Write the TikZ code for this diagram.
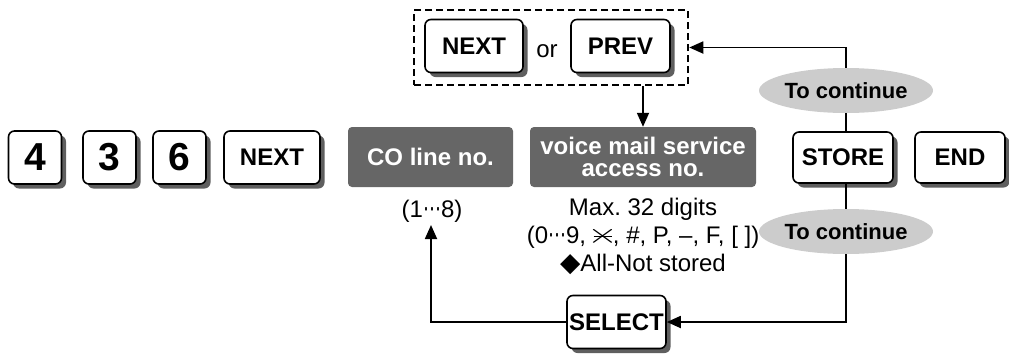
\documentclass[tikz,border=0pt]{standalone}
\usepackage{fontspec}
\usepackage{graphicx}
\setmainfont{Liberation Sans}
\newfontfamily\symfont{DejaVu Sans}
\usepackage{tikz}
\usetikzlibrary{arrows.meta, shapes.geometric, shadows}
\definecolor{shadowgray}{HTML}{5F5F5F}
\definecolor{fieldgray}{HTML}{666666}
\definecolor{ovalgray}{HTML}{CCCCCC}
\frenchspacing
\newcommand{\keyfont}{\bfseries\fontsize{24}{22}\selectfont}
\newcommand{\digitfont}{\bfseries\fontsize{39}{39}\selectfont}
\newcommand{\notefont}{\fontsize{24}{28}\selectfont}
\newcommand{\middots}{{\symfont\scalebox{0.75}[1.1]{⋯}}}
\newcommand{\starsym}{\makebox[0.84em]{\makebox[0pt]{\scalebox{1.6}[1.15]{$\times$}}\makebox[0pt]{\rule[0.235em]{0.78em}{0.04em}}}}
\tikzset{
  key/.style={draw, line width=1.6pt, rounded corners=6pt, fill=white, inner sep=0pt, minimum height=53pt, font=\keyfont,
    drop shadow={shadow xshift=4.5pt, shadow yshift=-4.5pt, opacity=1, fill=shadowgray}},
  digit/.style={key, font=\digitfont, minimum width=53pt},
  field/.style={fill=fieldgray, rounded corners=4pt, text=white, font=\keyfont, align=center, inner sep=0pt, minimum height=60pt},
  cont/.style={ellipse, fill=ovalgray, inner sep=0pt, minimum width=144pt, minimum height=45pt, font=\bfseries\fontsize{22}{22}\selectfont},
  flow/.style={line width=1.8pt, -{Triangle[length=14pt, width=12pt]}},
  link/.style={line width=1.8pt},
  note/.style={align=center, font=\notefont}
}
\begin{document}
\begin{tikzpicture}[x=1pt, y=-1pt]
    \useasboundingbox (0,0) rectangle (1009,354);
    % fixed entry
    \node[digit] (k4) at (35,157.5) {4};
    \node[digit] (k3) at (109.5,157.5) {3};
    \node[digit] (k6) at (179.5,157.5) {6};
    \node[key, minimum width=96pt] (next) at (272,157.5) {NEXT};
    % fields
    \node[field, minimum width=165pt] (co) at (430.5,157) {CO line no.};
    \node[field, minimum width=226pt] (vm) at (643,157) {voice mail service\\access no.};
    \node[note, anchor=base] (corange) at (432,217) {(1\middots8)};
    \node[note] (vmrange) at (643,236) {Max. 32 digits\\(0\middots9, \starsym, \#, P, –, F, [ ])\\{\symfont\scalebox{1.1}{◆}}All-Not stored};
    % next / prev
    \node[draw, line width=2.5pt, dash pattern=on 7pt off 4pt, minimum width=274pt, minimum height=75pt, inner sep=0pt] (pick) at (551,47.5) {};
    \node[key, minimum width=98pt] (next2) at (474,46) {NEXT};
    \node[note, anchor=base] (or) at (547,57) {or};
    \node[key, minimum width=99pt] (prev) at (620.5,46) {PREV};
    % store / end
    \node[key, minimum width=100pt, minimum height=51pt] (store) at (843,157.5) {STORE};
    \node[key, minimum width=90pt, minimum height=51pt] (end) at (960,157.5) {END};
    \node[cont] (cont1) at (846,90.5) {To continue};
    \node[cont] (cont2) at (846,231.5) {To continue};
    \node[key, minimum width=99pt] (select) at (616.5,322) {SELECT};
    \coordinate (coin) at (431,225);

    \draw[flow] (pick.south -| vm.north) -- (vm.north);
    \draw[flow] (cont1.north) |- (pick.east);
    \draw[link] (cont1.south) -- (cont1.south |- store.north);
    \draw[link] (cont2.north |- store.south) -- (cont2.north);
    \draw[flow] (cont2.south) |- (select.east);
    \draw[flow] (select.west) -| (coin);
\end{tikzpicture}
\end{document}
